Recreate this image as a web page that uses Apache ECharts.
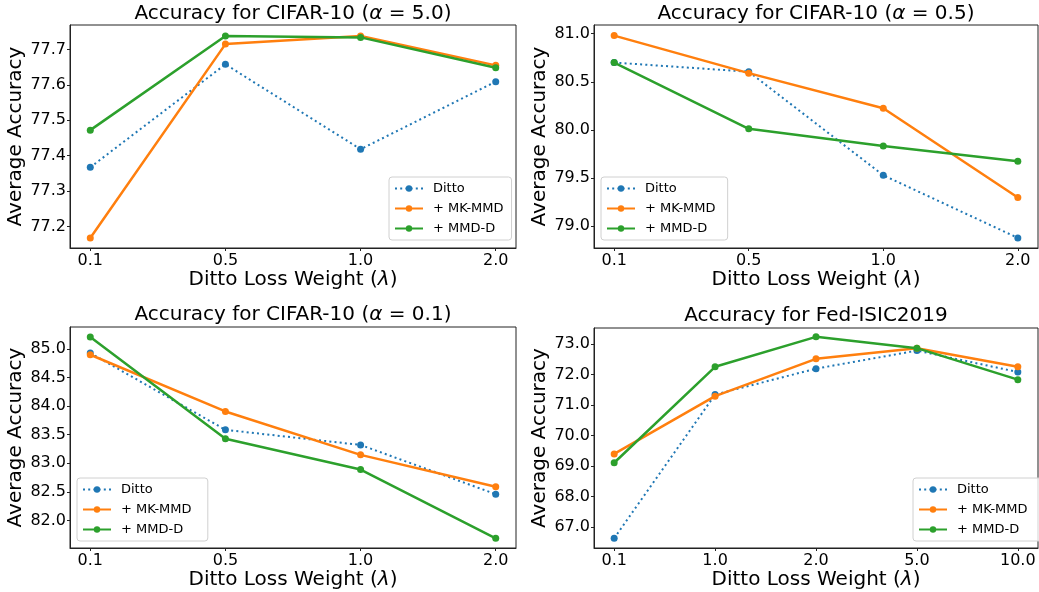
<!DOCTYPE html>
<html>
<head>
<meta charset="utf-8">
<script src="https://cdn.jsdelivr.net/npm/echarts@6/dist/echarts.min.js"></script>
<style>
  html, body { margin: 0; padding: 0; background: #fff; }
  #main { width: 1039px; height: 592px; }
</style>
</head>
<body>
<div id="main"></div>
<script>
// x categories
var lambdaCifar = ['0.1', '0.5', '1.0', '2.0'];
var lambdaIsic = ['0.1', '1.0', '2.0', '5.0', '10.0'];

// CIFAR-10 alpha = 5.0
var ditto50 = [77.367, 77.658, 77.418, 77.609];
var mk50 = [77.167, 77.715, 77.738, 77.655];
var mmdd50 = [77.472, 77.738, 77.734, 77.648];
var ticks50 = [77.2, 77.3, 77.4, 77.5, 77.6, 77.7];

// CIFAR-10 alpha = 0.5
var ditto05 = [80.70, 80.605, 79.53, 78.88];
var mk05 = [80.98, 80.59, 80.225, 79.30];
var mmdd05 = [80.70, 80.012, 79.834, 79.675];
var ticks05 = [79.0, 79.5, 80.0, 80.5, 81.0];

// CIFAR-10 alpha = 0.1
var ditto01 = [84.925, 83.584, 83.32, 82.46];
var mk01 = [84.895, 83.905, 83.147, 82.59];
var mmdd01 = [85.205, 83.427, 82.89, 81.69];
var ticks01 = [82.0, 82.5, 83.0, 83.5, 84.0, 84.5, 85.0];

// Fed-ISIC2019
var dittoIsic = [66.64, 71.34, 72.19, 72.78, 72.08];
var mkIsic = [69.40, 71.29, 72.51, 72.86, 72.25];
var mmddIsic = [69.11, 72.25, 73.23, 72.86, 71.83];
var ticksIsic = [67.0, 68.0, 69.0, 70.0, 71.0, 72.0, 73.0];

var names = ['Ditto', '+ MK-MMD', '+ MMD-D'];
var colors = ['#1f77b4', '#ff7f0e', '#2ca02c'];
var font = 'DejaVu Sans';

var panels = [
  { title: 'Accuracy for CIFAR-10 ({i|α} = 5.0)', cats: lambdaCifar, data: [ditto50, mk50, mmdd50], ticks: ticks50,
    ymin: 77.139, ymax: 77.769, grid: { left: 70, top: 25, width: 446, height: 223 },
    titlePos: [293, 4], legend: [389, 177] },
  { title: 'Accuracy for CIFAR-10 ({i|α} = 0.5)', cats: lambdaCifar, data: [ditto05, mk05, mmdd05], ticks: ticks05,
    ymin: 78.775, ymax: 81.09, grid: { left: 594, top: 25, width: 444, height: 223 },
    titlePos: [816, 4], legend: [601, 177] },
  { title: 'Accuracy for CIFAR-10 ({i|α} = 0.1)', cats: lambdaCifar, data: [ditto01, mk01, mmdd01], ticks: ticks01,
    ymin: 81.52, ymax: 85.38, grid: { left: 70, top: 327, width: 446, height: 221 },
    titlePos: [293, 305], legend: [77, 478] },
  { title: 'Accuracy for Fed-ISIC2019', cats: lambdaIsic, data: [dittoIsic, mkIsic, mmddIsic], ticks: ticksIsic,
    ymin: 66.32, ymax: 73.52, grid: { left: 594, top: 328, width: 444, height: 220 },
    titlePos: [816, 306], legend: [913, 478] }
];

var option = {
  animation: false,
  backgroundColor: '#fff',
  textStyle: { fontFamily: font, color: '#000' },
  title: [], grid: [], xAxis: [], yAxis: [], legend: [], series: []
};

panels.forEach(function (p, i) {
  var n = p.cats.length;
  var pad = (n - 1) * 0.05;
  option.title.push({
    text: p.title, left: p.titlePos[0], top: p.titlePos[1], textAlign: 'center', padding: 0,
    textStyle: { fontFamily: font, fontSize: 20, fontWeight: 'normal', color: '#000',
      rich: { i: { fontFamily: font, fontSize: 20, fontStyle: 'italic', color: '#000' } } }
  });
  option.grid.push({
    left: p.grid.left, top: p.grid.top, width: p.grid.width, height: p.grid.height,
    show: true, borderColor: '#222', borderWidth: 1, backgroundColor: 'transparent'
  });
  option.xAxis.push({
    type: 'value', gridIndex: i, min: -pad, max: n - 1 + pad,
    name: 'Ditto Loss Weight ({i|λ})', nameLocation: 'middle', nameGap: 22,
    nameTextStyle: { fontFamily: font, fontSize: 20, color: '#000',
      rich: { i: { fontFamily: font, fontSize: 20, fontStyle: 'italic', color: '#000' } } },
    axisLine: { show: true, onZero: false, lineStyle: { color: '#222', width: 1 } },
    axisTick: { show: true, length: 3, customValues: p.cats.map(function (c, k) { return k; }), lineStyle: { color: '#222' } },
    axisLabel: { fontFamily: font, fontSize: 16, color: '#000', margin: 5,
      customValues: p.cats.map(function (c, k) { return k; }),
      formatter: (function (cats) { return function (v) { return cats[Math.round(v)]; }; })(p.cats) },
    splitLine: { show: false }
  });
  option.yAxis.push({
    type: 'value', gridIndex: i, min: p.ymin, max: p.ymax,
    name: 'Average Accuracy', nameLocation: 'middle', nameGap: 44,
    nameTextStyle: { fontFamily: font, fontSize: 20, color: '#000' },
    axisLine: { show: true, onZero: false, lineStyle: { color: '#222', width: 1 } },
    axisTick: { show: true, length: 3, customValues: p.ticks, lineStyle: { color: '#222' } },
    axisLabel: { fontFamily: font, fontSize: 16, color: '#000', margin: 4, customValues: p.ticks,
      formatter: function (v) { return v.toFixed(1); } },
    splitLine: { show: false }
  });
  option.legend.push({
    orient: 'vertical', left: p.legend[0], top: p.legend[1],
    data: names.map(function (nm) { return nm + ' '.repeat(i); }),
    itemWidth: 28, itemHeight: 8, itemGap: 5,
    padding: [4, 8, 4, 5],
    borderColor: '#d0d0d0', borderWidth: 1, borderRadius: 3,
    backgroundColor: 'rgba(255,255,255,0.8)',
    textStyle: { fontFamily: font, fontSize: 13, color: '#000', lineHeight: 15, padding: [0, 0, 0, 5] }
  });
  p.data.forEach(function (vals, s) {
    option.series.push({
      type: 'line', name: names[s] + ' '.repeat(i), xAxisIndex: i, yAxisIndex: i,
      data: vals.map(function (v, k) { return [k, v]; }),
      symbol: 'circle', symbolSize: 7, showSymbol: true,
      color: colors[s],
      itemStyle: { color: colors[s] },
      lineStyle: s === 0 ? { color: colors[s], width: 2, type: [2, 3.2] } : { color: colors[s], width: 2.5 },
      z: 2 + s
    });
  });
});

var chart = echarts.init(document.getElementById('main'), null, { renderer: 'canvas' });
chart.setOption(option);
</script>
</body>
</html>
